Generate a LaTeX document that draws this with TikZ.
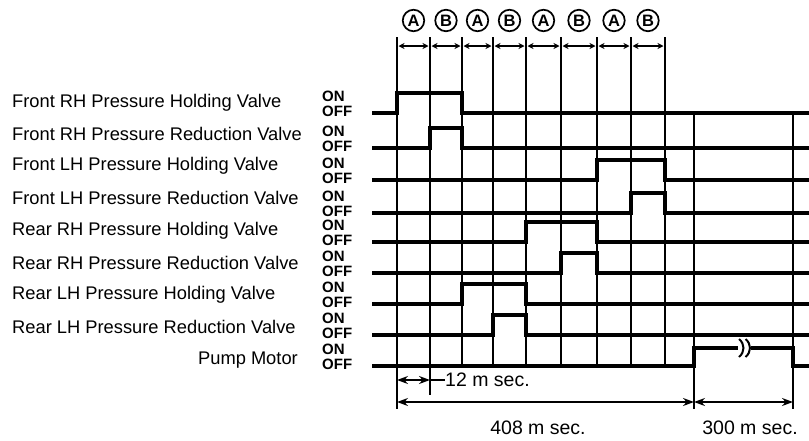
\documentclass[tikz,border=0pt]{standalone}
\usepackage{fontspec}
\setmainfont{Liberation Sans}
\usetikzlibrary{arrows.meta,calc}
\newcount\mycount

\begin{document}
\begin{tikzpicture}[x=1pt,y=-1pt,
	sig/.style={line width=3.3pt},
	gridline/.style={line width=2.3pt},
	onoff/.style={font=\fontsize{15}{15}\selectfont\bfseries,inner sep=0pt,anchor=west},
	valve/.style={font=\fontsize{18.3}{20}\selectfont,inner sep=0pt,anchor=west},
	phase/.style={circle,draw,line width=1.7pt,inner sep=0pt,minimum size=21.5pt,font=\fontsize{16.5}{16.5}\selectfont\bfseries},
	tick/.style={line width=1.8pt,{Stealth[length=6pt,width=6pt]}-{Stealth[length=6pt,width=6pt]},shorten <=1.5pt,shorten >=1.5pt},
	dim/.style={line width=1.5pt,{Stealth[length=11pt,width=8pt]}-{Stealth[length=11pt,width=8pt]}},
	msec/.style={font=\fontsize{19.5}{20}\selectfont,inner sep=0pt}]
\useasboundingbox (0,0) rectangle (809,440);

% time marks
\foreach \x/\px in {0/397,1/430,2/462,3/493,4/526,5/561,6/597,7/631,8/665,9/694,10/793}
	\coordinate (t\x) at (\px,37);

% rows: OFF level
\foreach \r/\y in {1/113,2/148,3/180,4/213,5/242,6/273,7/304,8/335,9/366}
{
	\coordinate (r\r) at (372,\y);
	\coordinate (e\r) at (809,\y);
	\node[onoff] (off\r) at (322,\y-2) {OFF};
	\node[onoff] (on\r) at (322,\y-17) {ON};
}

% valve names
\foreach \r/\ly/\txt in {1/103/{Front RH Pressure Holding Valve},2/134/{Front RH Pressure Reduction Valve},
	3/166/{Front LH Pressure Holding Valve},4/198/{Front LH Pressure Reduction Valve},
	5/231/{Rear RH Pressure Holding Valve},6/263/{Rear RH Pressure Reduction Valve},
	7/295/{Rear LH Pressure Holding Valve},8/327/{Rear LH Pressure Reduction Valve}}
	\node[valve] (name\r) at (12,\ly) {\txt};
\node[valve,anchor=east] (name9) at (298,360) {Pump Motor};

% grid
\foreach \x in {0,...,8}
	\draw[gridline] (t\x) -- (t\x|-r9);
\coordinate (b0) at (397,409);
\coordinate (b1) at (430,395);
\coordinate (b9) at (694,409);
\coordinate (b10) at (793,409);
\draw[gridline] (t0|-r9) -- (b0);
\draw[gridline] (t1|-r9) -- (b1);
\draw[gridline] (t9|-r1) -- (b9);
\draw[gridline] (t10|-r1) -- (b10);

% phases A/B
\foreach \x/\l in {0/A,1/B,2/A,3/B,4/A,5/B,6/A,7/B}
{
	\mycount=\x
	\advance\mycount by 1
	\node[phase] (p\x) at ($(t\x)!0.5!(t\the\mycount)+(0,-16.5)$) {\l};
	\draw[tick] ($(t\x)+(0,9)$) -- ($(t\the\mycount)+(0,9)$);
}

% valve signals
\foreach \r/\a/\b in {1/0/2,2/1/2,3/6/8,4/7/8,5/4/6,6/5/6,7/2/4,8/3/4}
	\draw[sig] (r\r) -| ($(t\a|-r\r)+(0,-20)$) -| (t\b|-r\r) -- (e\r);

% pump motor
\coordinate (k1) at (738,348);
\coordinate (k2) at (751,348);
\draw[sig] (r9) -| ($(t9|-r9)+(0,-18)$) -- (k1);
\draw[sig] (k2) -| (t10|-r9) -- (e9);
\draw[line width=2pt] (739,339) .. controls (745,344) and (745,352) .. (739,357);
\draw[line width=2pt] (745.5,339) .. controls (751.5,344) and (751.5,352) .. (745.5,357);

% times
\node[msec,anchor=west] (ms12) at (445,380) {12 m sec.};
\draw[dim] (t0|-ms12) -- (t1|-ms12);
\draw[line width=1.5pt] (t1|-ms12) -- (ms12.west);
\coordinate (d0) at (397,402);
\draw[dim] (d0) -- (t9|-d0);
\draw[dim] (t9|-d0) -- (t10|-d0);
\node[msec] (ms408) at (538,428) {408 m sec.};
\node[msec] (ms300) at (750,428) {300 m sec.};
\end{tikzpicture}
\end{document}
